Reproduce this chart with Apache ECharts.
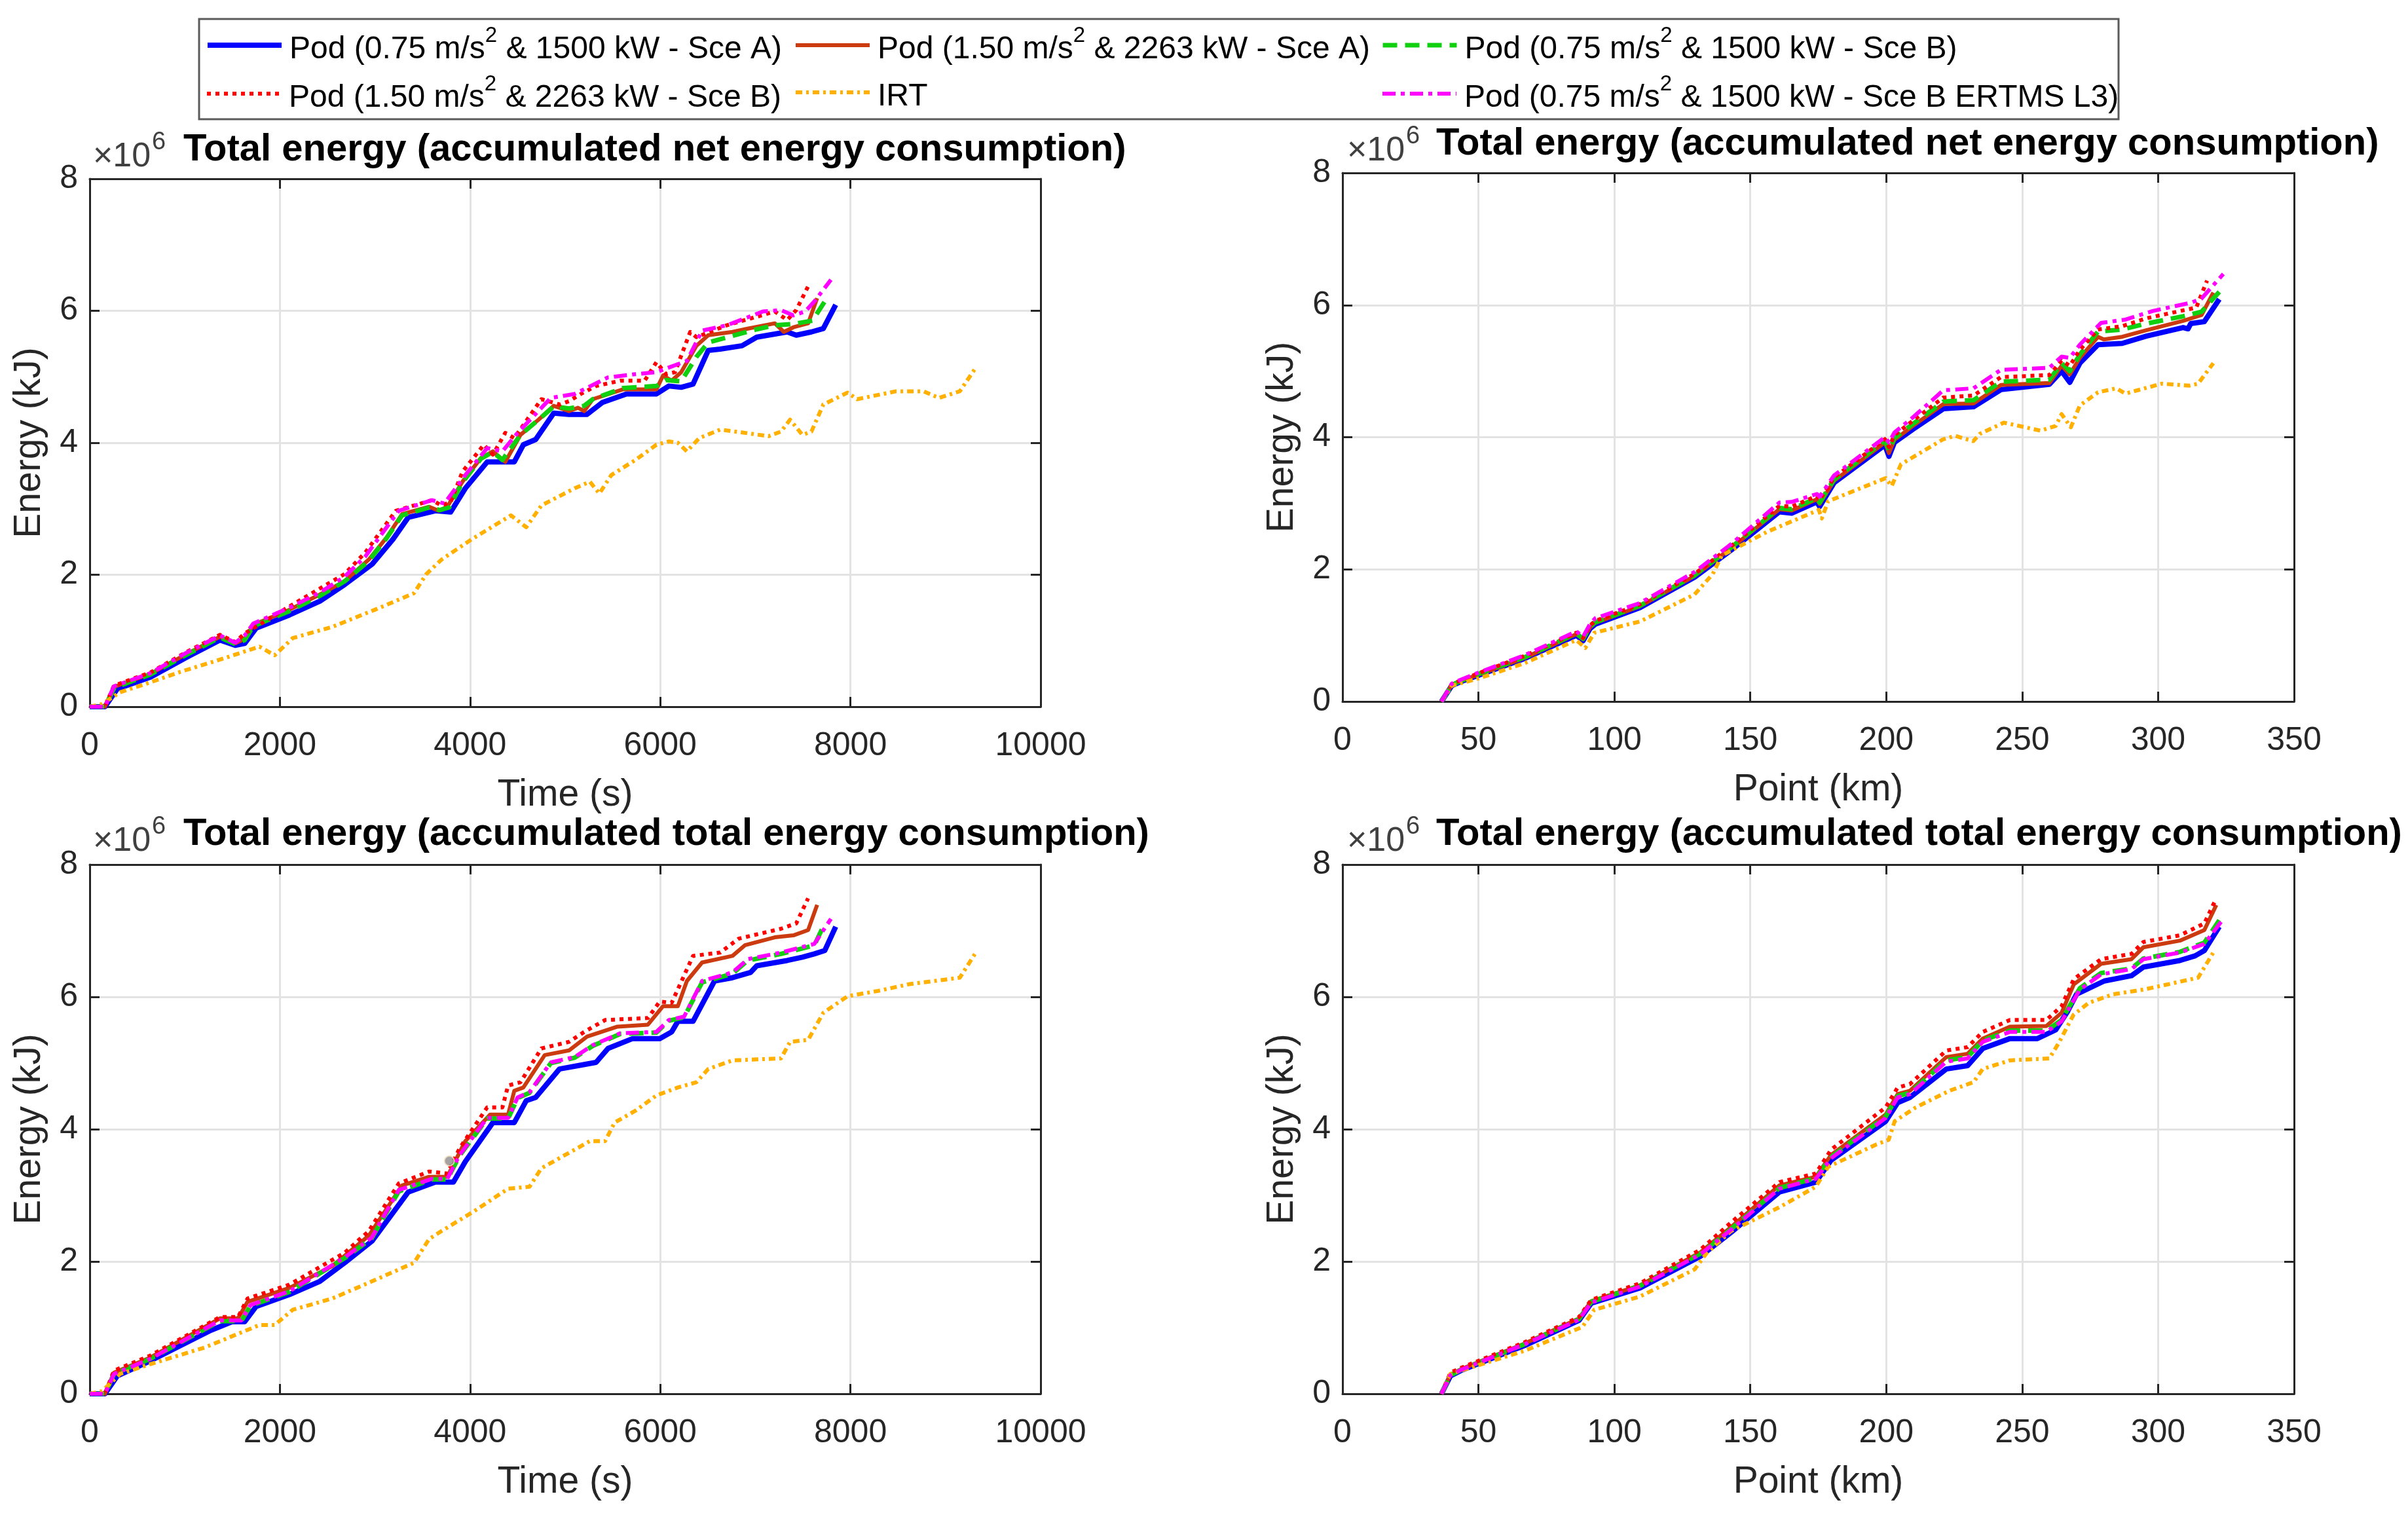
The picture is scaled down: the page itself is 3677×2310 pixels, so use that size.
<!DOCTYPE html>
<html><head><meta charset="utf-8">
<script src="https://cdn.jsdelivr.net/npm/echarts@6/dist/echarts.min.js"></script>
<style>html,body{margin:0;padding:0;background:#fff}#c{width:3677px;height:2310px}</style>
</head><body><div id="c"></div><script>
// ---- names ----
const seriesNames = [
  'Pod (0.75 m/s2 & 1500 kW - Sce A)',
  'Pod (1.50 m/s2 & 2263 kW - Sce A)',
  'Pod (0.75 m/s2 & 1500 kW - Sce B)',
  'Pod (1.50 m/s2 & 2263 kW - Sce B)',
  'IRT',
  'Pod (0.75 m/s2 & 1500 kW - Sce B ERTMS L3)'
];
const panelTitles = [
  'Total energy (accumulated net energy consumption)',
  'Total energy (accumulated net energy consumption)',
  'Total energy (accumulated total energy consumption)',
  'Total energy (accumulated total energy consumption)'
];
const xNames = ['Time (s)', 'Point (km)', 'Time (s)', 'Point (km)'];
const yName = 'Energy (kJ)';
const yTicks = [0, 2, 4, 6, 8];          // x10^6 kJ
const timeTicks = [0, 2000, 4000, 6000, 8000, 10000];
const kmTicks = [0, 50, 100, 150, 200, 250, 300, 350];

// ---- Top-left: net energy vs time (values in 10^6 kJ) ----
const tlBlue = [[0,0],[160,0],[290,0.27],[640,0.45],[1020,0.75],[1370,1.01],[1530,0.93],[1630,0.96],[1750,1.19],[2100,1.39],[2420,1.60],[2680,1.85],[2970,2.16],[3190,2.54],[3350,2.87],[3635,2.97],[3795,2.95],[3950,3.31],[4180,3.71],[4340,3.71],[4465,3.71],[4560,3.97],[4690,4.05],[4880,4.45],[5040,4.43],[5230,4.43],[5390,4.61],[5645,4.74],[5960,4.74],[6090,4.86],[6220,4.84],[6345,4.89],[6505,5.40],[6630,5.42],[6860,5.47],[7015,5.60],[7335,5.68],[7430,5.63],[7590,5.68],[7715,5.73],[7845,6.09]];
const tlBrown = [[0,0],[160,0],[255,0.30],[640,0.50],[1020,0.80],[1370,1.06],[1530,0.96],[1630,1.03],[1720,1.24],[2100,1.47],[2420,1.70],[2680,1.90],[2935,2.23],[3125,2.57],[3285,2.92],[3570,3.03],[3670,2.97],[3760,3.03],[3920,3.41],[4115,3.77],[4240,3.87],[4370,3.71],[4530,4.12],[4720,4.35],[4880,4.56],[5040,4.48],[5135,4.53],[5200,4.48],[5290,4.66],[5610,4.81],[5960,4.81],[6030,5.02],[6120,4.94],[6220,5.07],[6380,5.47],[6505,5.63],[6760,5.68],[6920,5.73],[7205,5.81],[7300,5.68],[7400,5.75],[7555,5.81],[7650,6.19]];
const tlGreen = [[0,0],[160,0],[260,0.29],[640,0.49],[1020,0.79],[1370,1.05],[1530,0.95],[1630,1.01],[1720,1.22],[2100,1.45],[2420,1.68],[2680,1.90],[2935,2.21],[3125,2.56],[3285,2.90],[3570,3.02],[3680,2.98],[3780,3.02],[3920,3.40],[4115,3.76],[4240,3.86],[4340,3.74],[4530,4.12],[4720,4.35],[4880,4.55],[5040,4.52],[5200,4.56],[5290,4.66],[5610,4.83],[5960,4.86],[6060,4.95],[6220,4.93],[6380,5.30],[6505,5.52],[6760,5.62],[7015,5.72],[7205,5.78],[7400,5.80],[7600,5.85],[7730,6.14]];
const tlRedDot = [[0,0],[160,0],[255,0.32],[640,0.52],[1020,0.83],[1370,1.09],[1530,0.98],[1630,1.11],[2100,1.52],[2680,2.01],[2900,2.34],[3220,2.97],[3600,3.13],[3700,3.05],[3795,3.10],[3920,3.56],[4145,3.97],[4240,3.82],[4370,4.15],[4465,4.07],[4750,4.66],[4945,4.58],[5040,4.63],[5165,4.74],[5325,4.86],[5580,4.94],[5835,4.94],[5960,5.22],[6060,5.04],[6155,5.07],[6315,5.68],[6380,5.60],[6700,5.78],[6890,5.86],[7015,5.91],[7205,5.99],[7335,5.86],[7430,6.01],[7555,6.37]];
const tlIRT = [[0,0],[130,0.04],[320,0.22],[640,0.37],[955,0.53],[1340,0.70],[1785,0.91],[1945,0.78],[2135,1.04],[2550,1.21],[3000,1.47],[3410,1.72],[3540,2.01],[3700,2.23],[4020,2.54],[4430,2.90],[4590,2.72],[4750,3.05],[5100,3.31],[5260,3.41],[5360,3.23],[5485,3.51],[5740,3.74],[5960,3.97],[6090,4.02],[6185,4.00],[6280,3.87],[6410,4.07],[6630,4.20],[6890,4.15],[7140,4.10],[7270,4.17],[7365,4.35],[7495,4.12],[7590,4.17],[7715,4.58],[7970,4.76],[8070,4.66],[8480,4.78],[8770,4.78],[8930,4.68],[9150,4.78],[9310,5.12]];
const tlMagenta = [[0,0],[160,0],[255,0.31],[640,0.51],[1020,0.82],[1370,1.08],[1530,0.97],[1630,1.08],[1720,1.26],[2100,1.50],[2420,1.73],[2680,1.97],[2900,2.28],[3250,2.97],[3600,3.13],[3730,3.08],[3950,3.51],[4180,3.92],[4340,3.87],[4500,4.15],[4850,4.68],[5100,4.74],[5450,4.99],[5740,5.04],[5960,5.07],[6090,5.14],[6280,5.24],[6440,5.70],[6700,5.78],[7080,5.99],[7270,6.01],[7400,5.93],[7525,5.99],[7620,6.14],[7795,6.47]];

// ---- Top-right: net energy vs point (km) ----
const trBlue = [[36.4,0],[40.2,0.24],[43.5,0.30],[50.2,0.40],[67,0.65],[86,1.00],[88.5,0.92],[91,1.10],[93,1.17],[109.4,1.42],[129.5,1.88],[142.9,2.29],[160.7,2.87],[165.2,2.85],[174.5,3.02],[175.5,2.95],[180.8,3.31],[199.5,3.88],[201,3.71],[203,3.92],[209.8,4.12],[221,4.43],[232.1,4.46],[242.2,4.72],[260,4.80],[264.5,5.00],[267.5,4.83],[271.2,5.12],[277.9,5.40],[286.8,5.42],[295.7,5.53],[309.2,5.66],[311,5.64],[312,5.72],[317,5.75],[322.5,6.09]];
const trBrown = [[36.4,0],[40.2,0.25],[43.5,0.31],[50.2,0.41],[67,0.66],[86,1.02],[88.5,0.94],[91,1.12],[93,1.19],[109.4,1.44],[129.5,1.90],[142.9,2.32],[160.7,2.91],[165.2,2.89],[174.5,3.06],[175.5,2.99],[180.8,3.34],[199.5,3.92],[201,3.76],[203,3.96],[209.8,4.17],[221,4.50],[232.1,4.51],[242.2,4.79],[260,4.82],[264.5,5.08],[267.5,4.95],[271.2,5.20],[277.9,5.52],[280,5.48],[286.8,5.52],[295.7,5.62],[309.2,5.76],[316,5.85],[320.3,6.19]];
const trGreen = [[36.4,0],[40.2,0.25],[43.5,0.31],[50.2,0.42],[67,0.67],[86,1.03],[88.5,0.95],[91,1.13],[93,1.20],[109.4,1.45],[129.5,1.91],[142.9,2.33],[160.7,2.93],[165.2,2.91],[174.5,3.08],[175.5,3.01],[180.8,3.36],[199.5,3.95],[201,3.80],[203,3.99],[209.8,4.20],[221,4.54],[232.1,4.56],[242.2,4.84],[260,4.87],[264.5,5.12],[267.5,5.00],[271.2,5.25],[277.9,5.60],[286.8,5.63],[295.7,5.72],[309.2,5.83],[316,5.90],[322.5,6.20]];
const trRedDot = [[36.4,0],[40.2,0.26],[43.5,0.32],[50.2,0.43],[67,0.69],[86,1.04],[88.5,0.96],[91,1.15],[93,1.22],[109.4,1.47],[129.5,1.93],[142.9,2.35],[160.7,2.96],[165.2,2.95],[174.5,3.11],[175.5,3.05],[180.8,3.39],[199.5,3.97],[201,3.85],[203,4.03],[209.8,4.25],[221,4.60],[232.1,4.63],[242.2,4.91],[260,4.94],[264.5,5.16],[267.5,5.08],[271.2,5.32],[277.9,5.63],[286.8,5.68],[295.7,5.80],[309.2,5.92],[314,5.96],[318,6.37]];
const trIRT = [[36.4,0],[40.2,0.24],[50.2,0.35],[67,0.58],[86,0.93],[89.3,0.81],[92.6,1.04],[109.4,1.21],[129.5,1.62],[136.2,1.93],[139.5,2.21],[156.3,2.57],[175.2,2.90],[176.3,2.77],[178.6,3.03],[199.8,3.38],[202,3.26],[205.4,3.59],[221,3.97],[225.4,4.02],[232,3.94],[234.4,4.05],[243.3,4.22],[256.7,4.10],[262.3,4.17],[264.5,4.35],[267.9,4.15],[271.2,4.48],[277.9,4.68],[284.6,4.74],[288,4.66],[301.3,4.81],[311.4,4.78],[314.7,4.81],[320.3,5.12]];
const trMagenta = [[36.4,0],[40.2,0.27],[43.5,0.33],[50.2,0.44],[67,0.70],[86,1.06],[88.5,0.98],[91,1.17],[93,1.26],[109.4,1.49],[129.5,1.96],[142.9,2.38],[160.7,3.01],[165.2,3.02],[174.5,3.14],[175.5,3.10],[180.8,3.42],[199.5,4.00],[201,3.92],[203,4.07],[209.8,4.30],[221,4.71],[232.1,4.74],[242.2,5.02],[260,5.05],[264.5,5.22],[267.5,5.20],[271.2,5.40],[279,5.73],[288,5.78],[298,5.91],[312.5,6.04],[316,6.10],[324,6.47]];

// ---- Bottom-left: total energy vs time ----
const blBlue = [[0,0],[160,0],[290,0.27],[640,0.50],[1275,0.96],[1500,1.09],[1630,1.09],[1750,1.32],[2100,1.50],[2420,1.70],[2680,1.98],[2970,2.31],[3190,2.74],[3350,3.05],[3635,3.20],[3825,3.20],[3950,3.51],[4240,4.10],[4465,4.10],[4590,4.43],[4690,4.48],[4940,4.91],[5135,4.96],[5325,5.01],[5450,5.22],[5710,5.37],[5995,5.37],[6120,5.47],[6185,5.63],[6345,5.63],[6570,6.24],[6760,6.29],[6950,6.37],[7015,6.47],[7335,6.55],[7495,6.60],[7620,6.65],[7730,6.70],[7845,7.06]];
const blBrown = [[0,0],[160,0],[255,0.32],[640,0.55],[1370,1.14],[1560,1.14],[1660,1.39],[2100,1.60],[2550,1.93],[2935,2.39],[3285,3.15],[3570,3.28],[3760,3.28],[3950,3.82],[4210,4.22],[4400,4.22],[4465,4.58],[4560,4.63],[4785,5.12],[5040,5.19],[5230,5.40],[5550,5.55],[5870,5.58],[6030,5.86],[6185,5.86],[6280,6.24],[6440,6.52],[6760,6.62],[6890,6.78],[7205,6.90],[7400,6.93],[7555,7.01],[7650,7.39]];
const blGreen = [[0,0],[160,0],[255,0.30],[640,0.53],[1370,1.10],[1595,1.10],[1690,1.33],[2100,1.54],[2680,2.05],[2965,2.35],[3250,3.06],[3600,3.24],[3760,3.24],[3890,3.60],[4180,4.16],[4400,4.16],[4500,4.47],[4625,4.55],[4850,5.00],[5100,5.08],[5290,5.26],[5580,5.44],[5960,5.46],[6090,5.64],[6250,5.69],[6440,6.22],[6760,6.35],[6920,6.55],[7270,6.65],[7620,6.78],[7730,7.11]];
const blRedDot = [[0,0],[160,0],[255,0.35],[640,0.58],[1370,1.16],[1560,1.16],[1660,1.44],[2100,1.65],[2680,2.13],[2935,2.46],[3250,3.18],[3570,3.36],[3760,3.33],[3890,3.71],[4180,4.33],[4340,4.33],[4400,4.66],[4530,4.71],[4750,5.22],[5040,5.32],[5200,5.47],[5420,5.65],[5870,5.68],[5995,5.93],[6120,5.91],[6345,6.62],[6630,6.67],[6825,6.88],[7270,7.03],[7430,7.11],[7555,7.49]];
const blIRT = [[0,0],[130,0.04],[320,0.30],[640,0.45],[1210,0.70],[1785,1.04],[1945,1.04],[2135,1.27],[2550,1.44],[3000,1.72],[3410,1.98],[3570,2.34],[3700,2.46],[4020,2.74],[4400,3.10],[4625,3.13],[4750,3.41],[5100,3.69],[5260,3.82],[5420,3.82],[5520,4.10],[5740,4.28],[5960,4.51],[6185,4.63],[6380,4.71],[6505,4.91],[6760,5.04],[7270,5.07],[7365,5.32],[7555,5.35],[7715,5.76],[7970,6.01],[8290,6.09],[8610,6.19],[9150,6.29],[9310,6.65]];
const blMagenta = [[0,0],[160,0],[255,0.30],[640,0.53],[1370,1.11],[1595,1.11],[1690,1.34],[2100,1.55],[2680,2.06],[2965,2.36],[3250,3.08],[3600,3.25],[3760,3.25],[3890,3.61],[4180,4.17],[4400,4.17],[4500,4.48],[4625,4.56],[4850,5.01],[5100,5.09],[5290,5.27],[5580,5.45],[5960,5.47],[6090,5.65],[6250,5.70],[6440,6.24],[6760,6.37],[6920,6.57],[7270,6.67],[7620,6.80],[7795,7.18]];
const blMarker = [[3782,3.52]];

// ---- Bottom-right: total energy vs point (km) ----
const brBlue = [[36.4,0],[39.7,0.27],[43.5,0.35],[67,0.73],[87,1.11],[91.5,1.37],[109.4,1.60],[131.7,2.08],[142.9,2.44],[160.7,3.05],[174.1,3.20],[179.7,3.53],[199.8,4.12],[204.2,4.40],[208.7,4.48],[222.1,4.91],[229.9,4.96],[235.5,5.22],[245.5,5.37],[255.6,5.37],[262.3,5.50],[266.7,5.78],[270,6.04],[280.2,6.24],[290.2,6.32],[294.6,6.45],[308,6.55],[313.6,6.62],[317,6.70],[322.5,7.06]];
const brBrown = [[36.4,0],[39.7,0.29],[43.5,0.37],[67,0.76],[87,1.14],[91.5,1.40],[109.4,1.64],[131.7,2.14],[142.9,2.52],[160.7,3.15],[174.1,3.28],[179.7,3.61],[199.8,4.22],[204.2,4.53],[208.7,4.58],[222.1,5.09],[229.9,5.14],[235.5,5.37],[245.5,5.55],[258.9,5.56],[264.5,5.76],[269,6.19],[279,6.50],[290.2,6.57],[294.6,6.75],[308,6.85],[317,7.01],[321.4,7.39]];
const brGreen = [[36.4,0],[39.7,0.28],[43.5,0.36],[67,0.75],[87,1.13],[91.5,1.39],[109.4,1.63],[131.7,2.12],[142.9,2.49],[160.7,3.11],[174.1,3.26],[179.7,3.58],[199.8,4.19],[204.2,4.50],[208.7,4.55],[222.1,5.04],[229.9,5.09],[235.5,5.34],[245.5,5.49],[258.9,5.49],[264.5,5.65],[271.2,6.13],[279,6.36],[290.2,6.43],[294.6,6.58],[308,6.68],[317,6.82],[322.5,7.16]];
const brRedDot = [[36.4,0],[39.7,0.32],[43.5,0.39],[67,0.78],[87,1.16],[91.5,1.42],[109.4,1.67],[131.7,2.18],[142.9,2.59],[160.7,3.20],[174.1,3.33],[179.7,3.69],[199.8,4.33],[204.2,4.63],[208.7,4.68],[222.1,5.19],[229.9,5.24],[235.5,5.47],[245.5,5.65],[258.9,5.65],[264.5,5.86],[269,6.27],[279,6.57],[290.2,6.65],[294.6,6.83],[308,6.93],[317,7.11],[321.4,7.49]];
const brIRT = [[36.4,0],[39.7,0.30],[67,0.65],[88.2,1.01],[92.6,1.27],[109.4,1.47],[129.5,1.88],[134,2.13],[142.9,2.46],[160.7,2.82],[174.1,3.13],[178.6,3.43],[196.4,3.77],[200.9,3.84],[203.1,4.12],[210.9,4.33],[223.2,4.58],[232.1,4.71],[235.5,4.91],[245.5,5.04],[260,5.07],[263.4,5.30],[268.9,5.73],[274.5,5.91],[283.5,6.04],[294.6,6.11],[303.6,6.19],[314.7,6.29],[320.3,6.67]];
const brMagenta = [[36.4,0],[39.7,0.28],[43.5,0.36],[67,0.75],[87,1.12],[91.5,1.38],[109.4,1.62],[131.7,2.11],[142.9,2.48],[160.7,3.10],[174.1,3.25],[179.7,3.56],[199.8,4.17],[204.2,4.48],[208.7,4.53],[222.1,5.02],[229.9,5.07],[235.5,5.32],[245.5,5.47],[258.9,5.47],[264.5,5.63],[271.2,6.11],[279,6.34],[290.2,6.42],[294.6,6.57],[308,6.67],[317,6.80],[324,7.18]];

const panelData = [
  [tlBlue, tlBrown, tlGreen, tlRedDot, tlIRT, tlMagenta],
  [trBlue, trBrown, trGreen, trRedDot, trIRT, trMagenta],
  [blBlue, blBrown, blGreen, blRedDot, blIRT, blMagenta],
  [brBlue, brBrown, brGreen, brRedDot, brIRT, brMagenta]
];

// ---- styles / layout ----
const FONT = "'Liberation Sans', Arial, Helvetica, sans-serif";
const AX = '#262626';
const lineStyles = [
  {color:'#0000ff', width:8, type:'solid'},
  {color:'#cc3a10', width:6, type:'solid'},
  {color:'#10d010', width:7, type:[22,12]},
  {color:'#ff0000', width:6, type:[6,7]},
  {color:'#ffb000', width:6, type:[10,6,4,6]},
  {color:'#ff00ff', width:6, type:[20,8,6,8]}
];
const grids = [
  {left:137, top:273, width:1452, height:806},
  {left:2050, top:264, width:1453, height:807},
  {left:137, top:1320, width:1452, height:808},
  {left:2050, top:1320, width:1453, height:808}
];
const isTime = [true, false, true, false];

const xAxes = [], yAxes = [], series = [];
grids.forEach((g, i) => {
  const xt = isTime[i] ? timeTicks : kmTicks;
  const xmin = xt[0], xmax = xt[xt.length-1], xint = xt[1]-xt[0];
  const common = {
    type:'value', gridIndex:i, min:xmin, max:xmax, interval:xint,
    axisLine:{show:true, onZero:false, lineStyle:{color:AX, width:3}},
    axisTick:{show:true, inside:true, length:15, lineStyle:{color:AX, width:3}}
  };
  xAxes.push(Object.assign({}, common, {
    position:'bottom',
    name:xNames[i], nameLocation:'middle', nameGap:107,
    nameTextStyle:{fontFamily:FONT, fontSize:57, color:AX},
    axisLabel:{show:true, margin:35, fontFamily:FONT, fontSize:50, color:AX, formatter:v=>String(v)},
    splitLine:{show:true, lineStyle:{color:'#e3e3e3', width:3}}
  }));
  xAxes.push(Object.assign({}, common, {
    position:'top', axisLabel:{show:false}, splitLine:{show:false}
  }));
  const ycommon = {
    type:'value', gridIndex:i, min:yTicks[0], max:yTicks[yTicks.length-1], interval:yTicks[1]-yTicks[0],
    axisLine:{show:true, onZero:false, lineStyle:{color:AX, width:3}},
    axisTick:{show:true, inside:true, length:15, lineStyle:{color:AX, width:3}}
  };
  yAxes.push(Object.assign({}, ycommon, {
    position:'left',
    name:yName, nameLocation:'middle', nameGap:63,
    nameTextStyle:{fontFamily:FONT, fontSize:57, color:AX},
    axisLabel:{show:true, margin:18, fontFamily:FONT, fontSize:50, color:AX, formatter:v=>String(v)},
    splitLine:{show:true, lineStyle:{color:'#e3e3e3', width:3}}
  }));
  yAxes.push(Object.assign({}, ycommon, {
    position:'right', axisLabel:{show:false}, splitLine:{show:false}
  }));
  panelData[i].forEach((d, k) => {
    series.push({
      type:'line', name:seriesNames[k], xAxisIndex:2*i, yAxisIndex:2*i,
      data:d, showSymbol:false, symbol:'none', smooth:false,
      lineStyle:Object.assign({cap:'butt', join:'round'}, lineStyles[k]),
      itemStyle:{color:lineStyles[k].color},
      emphasis:{disabled:true}, z:2+k, clip:true
    });
  });
});
series.push({
  type:'scatter', name:'marker', xAxisIndex:4, yAxisIndex:4, data:blMarker,
  symbol:'circle', symbolSize:15, itemStyle:{color:'#8c8c8c', borderColor:'#f0e0c0', borderWidth:2}, z:20
});

// legends: one per item
const legendPos = [
  {left:313, top:38}, {left:1212, top:38}, {left:2108, top:38},
  {left:313, top:112}, {left:1212, top:124}, {left:2108, top:112}
];
const richN = {fontFamily:FONT, fontSize:48, color:'#000', verticalAlign:'bottom', lineHeight:62};
const richS = {fontFamily:FONT, fontSize:33, color:'#000', verticalAlign:'top'};
function legendFmt(name){
  const idx = name.indexOf('m/s2');
  if (idx < 0) return '{n|' + name + '}';
  return '{n|' + name.slice(0, idx+3) + '}{s|2}{n|' + name.slice(idx+4) + '}';
}
const legends = seriesNames.map((nm, k) => ({
  show:true, data:[nm], left:legendPos[k].left, top:legendPos[k].top,
  orient:'horizontal', padding:0, itemWidth:113, itemHeight:20, itemGap:0,
  selectedMode:false, z:10,
  itemStyle:{color:'rgba(0,0,0,0)', borderColor:'rgba(0,0,0,0)', borderWidth:0, opacity:0},
  lineStyle:{width:lineStyles[k].width, type:lineStyles[k].type, color:lineStyles[k].color, cap:'butt'},
  formatter:legendFmt,
  textStyle:{fontFamily:FONT, fontSize:48, color:'#000', padding:[0,0,0,7], rich:{n:richN, s:richS}}
}));

// titles and x10^6 labels
const titlePos = [{x:280,y:229},{x:2193,y:220},{x:280,y:1274},{x:2193,y:1274}];
const expPos = [{x:142,y:240},{x:2057,y:231},{x:142,y:1285},{x:2057,y:1285}];
const graphics = [{
  type:'rect', z:1, shape:{x:304, y:29, width:2931, height:153},
  style:{fill:'#fff', stroke:'#5a5a5a', lineWidth:3}
}];
titlePos.forEach((p, i) => {
  graphics.push({type:'text', z:5, x:p.x, y:p.y, style:{
    text:panelTitles[i], fontFamily:FONT, fontSize:58, fontWeight:'bold', fill:'#000',
    textAlign:'left', textVerticalAlign:'middle', verticalAlign:'middle'}});
  const e = expPos[i];
  graphics.push({type:'text', z:5, x:e.x, y:e.y, style:{
    text:'×10', fontFamily:FONT, fontSize:52, fill:'#404040',
    textAlign:'left', textVerticalAlign:'middle', verticalAlign:'middle'}});
  graphics.push({type:'text', z:5, x:e.x+90, y:e.y-22, style:{
    text:'6', fontFamily:FONT, fontSize:38, fill:'#404040',
    textAlign:'left', textVerticalAlign:'middle', verticalAlign:'middle'}});
});

const chart = echarts.init(document.getElementById('c'), null, {renderer:'canvas'});
chart.setOption({
  backgroundColor:'#ffffff',
  animation:false,
  grid:grids.map(g => Object.assign({show:false, containLabel:false}, g)),
  xAxis:xAxes, yAxis:yAxes, series:series, legend:legends, graphic:graphics
});
</script></body></html>
